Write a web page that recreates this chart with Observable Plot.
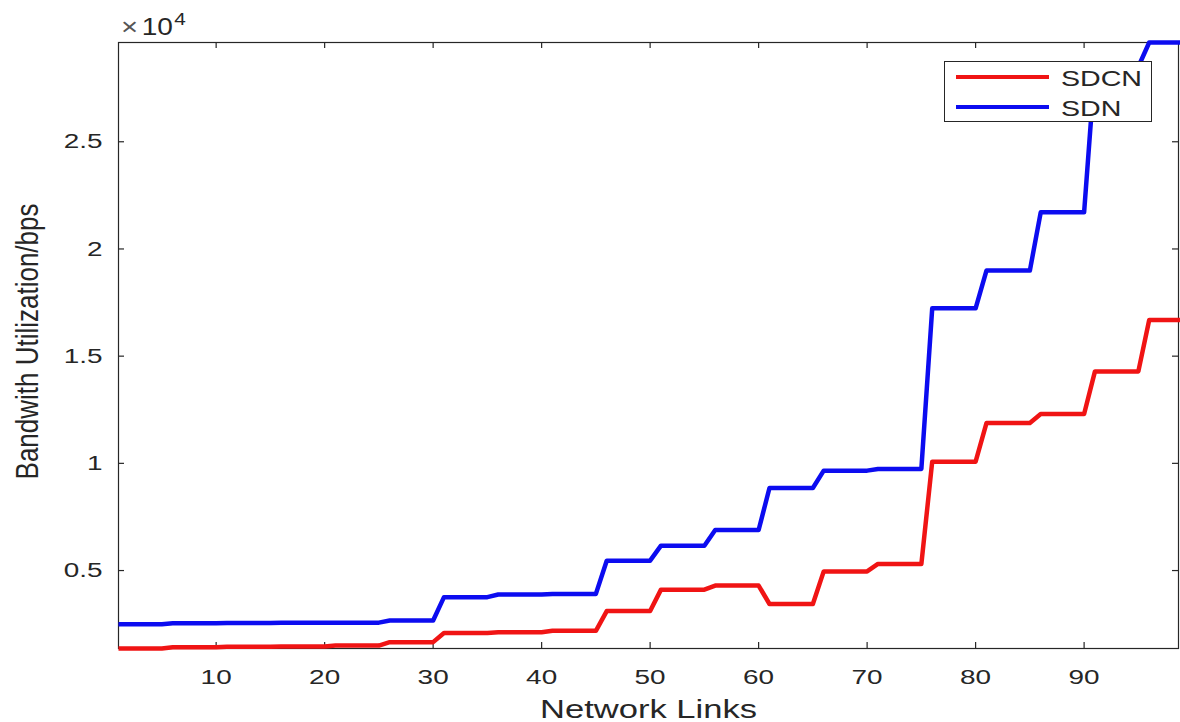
<!DOCTYPE html>
<html>
<head>
<meta charset="utf-8">
<script src="https://cdn.jsdelivr.net/npm/d3@7"></script>
<script src="https://cdn.jsdelivr.net/npm/@observablehq/plot@0.6"></script>
<style>
  body { margin: 0; background: #fff; }
  #wrap { position: relative; width: 1180px; height: 722px; font-family: "Liberation Sans", Arial, Helvetica, sans-serif; color: #262626; overflow: hidden; }
  #legend { position: absolute; left: 944px; top: 61px; width: 208px; height: 61px; border: 1px solid #262626; background: #fff; box-sizing: border-box; }
  .lrow { position: absolute; left: 0; height: 26px; width: 100%; }
  .lsw { position: absolute; left: 11px; width: 93px; height: 4.5px; }
  .ltx { position: absolute; left: 116px; font-size: 21.5px; line-height: 26px; height: 26px; transform: scaleX(1.33); transform-origin: left center; white-space: nowrap; }
  #expo { position: absolute; left: 121px; top: 16px; font-size: 23px; line-height: 22px; transform: scaleX(1.22); transform-origin: left center; white-space: nowrap; }
  #expo .times { font-size: 24px; color: #555; margin-right: 3px; }
  #expo .sup { position: relative; top: -10px; font-size: 17px; margin-left: 1px; }
</style>
</head>
<body>
<div id="wrap"></div>
<script>
// ---- data ----
const links = [1,2,3,4,5,6,7,8,9,10,11,12,13,14,15,16,17,18,19,20,21,22,23,24,25,26,27,28,29,30,
  31,32,33,34,35,36,37,38,39,40,41,42,43,44,45,46,47,48,49,50,51,52,53,54,55,56,57,58,59,60,
  61,62,63,64,65,66,67,68,69,70,71,72,73,74,75,76,77,78,79,80,81,82,83,84,85,86,87,88,89,90,
  91,92,93,94,95,96,97,98,99];

const sdcn = [
  1364,1364,1364,1364,1364, 1420,1420,1420,1420,1420, 1440,1440,1440,1440,1440, 1460,1460,1460,1460,1460,
  1500,1500,1500,1500,1500, 1660,1660,1660,1660,1660, 2090,2090,2090,2090,2090, 2120,2120,2120,2120,2120,
  2190,2190,2190,2190,2190, 3110,3110,3110,3110,3110, 4110,4110,4110,4110,4110, 4300,4300,4300,4300,4300,
  3440,3440,3440,3440,3440, 4960,4960,4960,4960,4960, 5310,5310,5310,5310,5310, 10080,10080,10080,10080,10080,
  11880,11880,11880,11880,11880, 12300,12300,12300,12300,12300, 14290,14290,14290,14290,14290, 16690,16690,16690,16690];

const sdn = [
  2500,2500,2500,2500,2500, 2540,2540,2540,2540,2540, 2550,2550,2550,2550,2550, 2560,2560,2560,2560,2560,
  2570,2570,2570,2570,2570, 2670,2670,2670,2670,2670, 3760,3760,3760,3760,3760, 3880,3880,3880,3880,3880,
  3910,3910,3910,3910,3910, 5460,5460,5460,5460,5460, 6160,6160,6160,6160,6160, 6890,6890,6890,6890,6890,
  8850,8850,8850,8850,8850, 9660,9660,9660,9660,9660, 9740,9740,9740,9740,9740, 17230,17230,17230,17230,17230,
  18990,18990,18990,18990,18990, 21710,21710,21710,21710,21710, 28500,28500,28500,28500,28500, 29630,29630,29630,29630];

const seriesNames = ["SDCN", "SDN"];
const seriesColors = ["#f01414", "#0c0cf0"];
const xTicks = [10, 20, 30, 40, 50, 60, 70, 80, 90];
const yTicks = [5000, 10000, 15000, 20000, 25000];
const xDomain = [1, 98.7];
const yDomain = [1364, 29630];
const xLabel = "Network Links";
const yLabel = "Bandwith Utilization/bps";
const yExponent = "4";

// ---- build ----
const rows = [];
links.forEach((x, i) => {
  rows.push({x, v: sdcn[i], s: seriesNames[0]});
});
links.forEach((x, i) => {
  rows.push({x, v: sdn[i], s: seriesNames[1]});
});

const W = 1180, H = 722;
const mL = 118, mR = 2, mT = 42, mB = 74;
const fw = W - mL - mR, fh = H - mT - mB;
const ink = "#262626";
const tickLen = 6;

const chart = Plot.plot({
  width: W, height: H,
  marginLeft: mL, marginRight: mR, marginTop: mT, marginBottom: mB,
  style: {fontFamily: '"Liberation Sans", Arial, Helvetica, sans-serif', color: ink, background: "white", overflow: "hidden"},
  x: {domain: xDomain},
  y: {domain: yDomain},
  color: {domain: seriesNames, range: seriesColors},
  marks: [
    Plot.frame({stroke: ink, strokeWidth: 1.2}),
    // inward ticks on all four sides
    Plot.tickX(xTicks, {x: d => d, stroke: ink, strokeWidth: 1.2, insetTop: fh - tickLen}),
    Plot.tickX(xTicks, {x: d => d, stroke: ink, strokeWidth: 1.2, insetBottom: fh - tickLen}),
    Plot.tickY(yTicks, {y: d => d, stroke: ink, strokeWidth: 1.2, insetRight: fw - tickLen}),
    Plot.tickY(yTicks, {y: d => d, stroke: ink, strokeWidth: 1.2, insetLeft: fw - tickLen}),
    Plot.axisX(xTicks, {tickSize: 0, tickPadding: 21, fontSize: 21, label: null, fill: ink}),
    Plot.axisY(yTicks, {tickSize: 0, tickPadding: 16, fontSize: 21, label: null, fill: ink, tickFormat: d => d3.format("~g")(d / 1e4)}),
    Plot.line(rows, {x: "x", y: "v", z: "s", stroke: "s", strokeWidth: 4.5, strokeLinejoin: "round", strokeLinecap: "butt"}),
    Plot.text([xLabel], {frameAnchor: "bottom", dy: 61.5, fontSize: 26, fill: ink, textAnchor: "middle", lineAnchor: "middle"}),
    Plot.text([yLabel], {frameAnchor: "left", dx: -90, dy: -4, rotate: -90, fontSize: 26, fill: ink, textAnchor: "middle", lineAnchor: "middle"})
  ]
});

// horizontal stretch of text to mimic the reference's wide lettering
chart.querySelectorAll("text").forEach(t => {
  const tr = t.getAttribute("transform");
  if (tr == null) return;
  if (tr.includes("rotate")) t.setAttribute("transform", tr + " scale(1,1.2)");
  else t.setAttribute("transform", tr + " scale(1.33,1)");
});

const wrap = document.getElementById("wrap");
wrap.appendChild(chart);

// exponent label
const expo = document.createElement("div");
expo.id = "expo";
expo.innerHTML = `<span class="times">\u00d7</span>10<span class="sup">${yExponent}</span>`;
wrap.appendChild(expo);

// legend
const legend = document.createElement("div");
legend.id = "legend";
const rowCenters = [15, 45];
seriesNames.forEach((name, i) => {
  const r = document.createElement("div");
  r.className = "lrow";
  r.style.top = (rowCenters[i] - 13) + "px";
  const sw = document.createElement("div");
  sw.className = "lsw";
  sw.style.background = seriesColors[i];
  sw.style.top = (13 - 2.25) + "px";
  const tx = document.createElement("div");
  tx.className = "ltx";
  tx.style.top = "2px";
  tx.textContent = name;
  r.appendChild(sw);
  r.appendChild(tx);
  legend.appendChild(r);
});
wrap.appendChild(legend);
</script>
</body>
</html>
